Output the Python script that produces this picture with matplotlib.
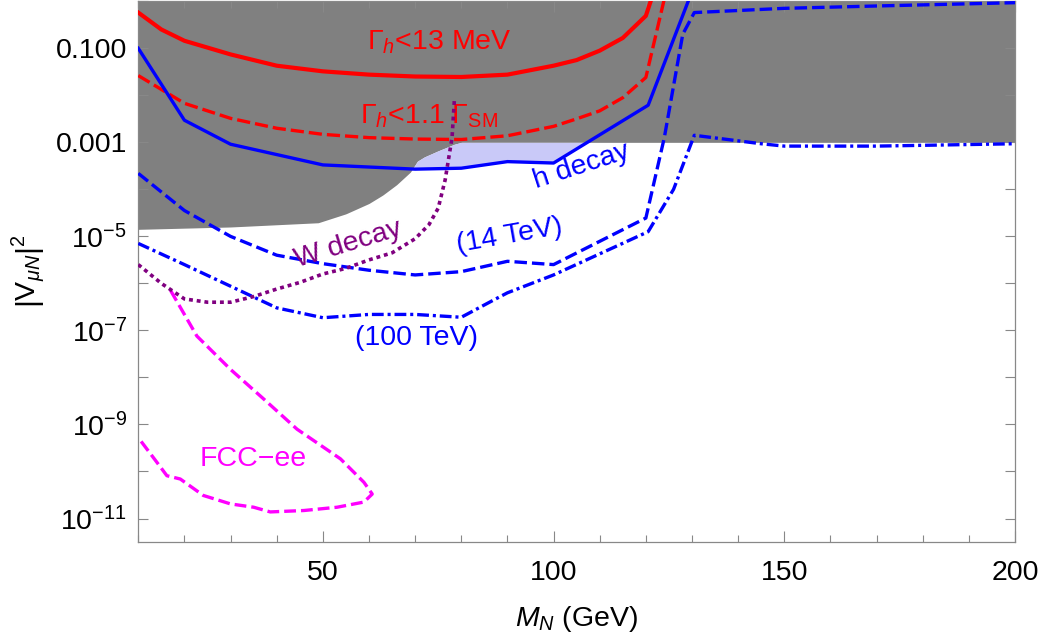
import matplotlib
matplotlib.use('Agg')
import matplotlib.pyplot as plt
import numpy as np
from matplotlib.ticker import FixedLocator, FixedFormatter, MultipleLocator

plt.rcParams['font.family'] = ['Liberation Sans', 'DejaVu Sans']
plt.rcParams['mathtext.fontset'] = 'custom'
plt.rcParams['mathtext.rm'] = 'Liberation Sans'
plt.rcParams['mathtext.it'] = 'Liberation Sans:italic'
plt.rcParams['mathtext.bf'] = 'Liberation Sans:bold'
plt.rcParams['lines.scale_dashes'] = False

# curves: x in GeV, y given as log10(|V|^2)
red_solid_x = [10, 15, 20, 30, 40, 50, 60, 70, 80, 90, 100, 105, 110, 115, 120, 121.2]
red_solid_y = [-0.24, -0.60, -0.84, -1.13, -1.37, -1.49, -1.56, -1.60, -1.61, -1.56,
               -1.37, -1.25, -1.05, -0.78, -0.31, 0.05]

red_dash_x = [10, 20, 30, 40, 50, 60, 70, 80, 90, 100, 105, 110, 115, 120, 124]
red_dash_y = [-1.58, -2.17, -2.49, -2.70, -2.83, -2.90, -2.93, -2.94, -2.86, -2.66,
              -2.50, -2.33, -2.05, -1.62, 0.05]

h_decay_x = [10, 20, 30, 50, 70, 80, 90, 100, 120.5, 130]
h_decay_y = [-1.0, -2.53, -3.04, -3.48, -3.57, -3.55, -3.41, -3.44, -2.21, 0.21]

lhc14_x = [10, 20, 30, 40, 50, 60, 70, 80, 90, 100, 120, 124, 128, 130.5, 150, 170, 200]
lhc14_y = [-3.66, -4.45, -5.0, -5.4, -5.58, -5.72, -5.82, -5.75, -5.53, -5.60, -4.61,
           -2.9, -0.7, -0.24, -0.15, -0.10, -0.03]

fcc100_x = [10, 20, 30, 40, 50, 60, 70, 80, 86.5, 90, 100, 120.5, 126, 130.5, 145, 150, 170, 200]
fcc100_y = [-5.15, -5.6, -6.06, -6.52, -6.73, -6.66, -6.66, -6.72, -6.38, -6.2, -5.82,
            -4.9, -4.0, -2.85, -3.03, -3.08, -3.08, -3.03]

w_decay_x = [10, 15, 20, 25, 30, 35, 40, 45, 50, 55, 60, 65, 70, 73, 75, 76.5, 78, 78.5]
w_decay_y = [-5.6, -6.0, -6.33, -6.40, -6.40, -6.28, -6.12, -5.98, -5.80, -5.68, -5.50,
             -5.35, -5.05, -4.75, -4.40, -3.8, -2.9, -2.1]

fccee_x = [17, 22.7, 30, 37.2, 44.4, 53.8, 58.9, 60.7, 58.9, 53.1, 45.9, 38.6, 35, 30,
           24.1, 19.1, 16.2, 14, 10]
fccee_y = [-6.15, -7.12, -7.83, -8.46, -9.10, -9.73, -10.23, -10.48, -10.65, -10.76,
           -10.83, -10.86, -10.76, -10.69, -10.51, -10.16, -10.09, -9.80, -9.28]

excl_x = [10, 30, 49, 55, 60, 63, 66, 69, 70.5, 72, 75, 78.5, 80, 200]
excl_y = [-4.85, -4.80, -4.71, -4.52, -4.30, -4.12, -3.90, -3.63, -3.40, -3.31, -3.18,
          -3.04, -3.0, -3.0]

ytick_exp = [0, -1, -2, -3, -4, -5, -6, -7, -8, -9, -10, -11]
ytick_text = {-1: '0.100', -3: '0.001', -5: r'$10^{-5}$', -7: r'$10^{-7}$',
              -9: r'$10^{-9}$', -11: r'$10^{-11}$'}

fig = plt.figure(figsize=(10.42, 6.4), dpi=100)
ax = fig.add_axes([0.1327, 0.1531, 0.9741 - 0.1327, 0.998 - 0.1531])

# shaded excluded regions
gx = np.linspace(10, 200, 1000)
g_low = 10 ** np.interp(gx, excl_x, excl_y)
h_line = 10 ** np.interp(gx, h_decay_x, h_decay_y)
ax.fill_between(gx, g_low, 10.0, color='#808080', lw=0, zorder=1)
ax.fill_between(gx, h_line, g_low, where=(h_line < g_low) & (gx > 65), interpolate=True,
                color='#c9c9f8', lw=0, zorder=1)

lw = 2.4
ax.plot(red_solid_x, 10 ** np.array(red_solid_y), color='red', lw=3.0, zorder=3)
ax.plot(red_dash_x, 10 ** np.array(red_dash_y), color='red', lw=lw,
        linestyle=(0, (9.5, 3.6)), zorder=3)
ax.plot(h_decay_x, 10 ** np.array(h_decay_y), color='blue', lw=lw, zorder=3)
ax.plot(lhc14_x, 10 ** np.array(lhc14_y), color='blue', lw=lw,
        linestyle=(0, (9, 3.6)), zorder=3)
ax.plot(fcc100_x, 10 ** np.array(fcc100_y), color='blue', lw=lw,
        linestyle=(0, (8.5, 2.8, 2.2, 2.8)), zorder=3)
ax.plot(w_decay_x, 10 ** np.array(w_decay_y), color='#800080', lw=2.6,
        linestyle=(0, (2.8, 2.8)), zorder=4)
ax.plot(fccee_x, 10 ** np.array(fccee_y), color='#ff00ff', lw=lw,
        linestyle=(0, (8.5, 3.6)), zorder=3)

fs = 20.5
ax.text(75.2, 10 ** -0.88, r'$\Gamma_h$<13 MeV', color='red', fontsize=fs,
        ha='center', va='center', zorder=5)
ax.text(73.0, 10 ** -2.45, r'$\Gamma_h$<1.1 $\Gamma_{\rm SM}$', color='red', fontsize=fs,
        ha='center', va='center', zorder=2)
ax.text(106.0, 10 ** -3.50, 'h decay', color='blue', fontsize=fs, rotation=18,
        rotation_mode='anchor', ha='center', va='center', zorder=5)
ax.text(55.4, 10 ** -5.18, 'W decay', color='#800080', fontsize=fs, rotation=17,
        rotation_mode='anchor', ha='center', va='center', zorder=5)
ax.text(90.4, 10 ** -4.99, '(14 TeV)', color='blue', fontsize=fs, rotation=10,
        rotation_mode='anchor', ha='center', va='center', zorder=5)
ax.text(70.2, 10 ** -7.17, '(100 TeV)', color='blue', fontsize=fs,
        ha='center', va='center', zorder=5)
ax.text(34.9, 10 ** -9.74, 'FCC\u2212ee', color='#ff00ff', fontsize=fs,
        ha='center', va='center', zorder=5)

ax.set_yscale('log')
ax.set_xlim(10, 200)
ax.set_ylim(10 ** -11.5, 1.0)

ax.xaxis.set_major_locator(FixedLocator([50, 100, 150, 200]))
ax.xaxis.set_minor_locator(MultipleLocator(10))
ax.yaxis.set_major_locator(FixedLocator([10.0 ** e for e in ytick_exp]))
ax.yaxis.set_major_formatter(FixedFormatter([ytick_text.get(e, '') for e in ytick_exp]))
ax.yaxis.set_minor_locator(FixedLocator([]))

ax.tick_params(which='both', direction='in', top=True, right=True, color='#888888',
               labelsize=fs, width=0.8)
ax.tick_params(axis='x', which='major', length=8, pad=13)
ax.tick_params(axis='x', which='minor', length=5)
ax.tick_params(axis='y', which='major', length=7, pad=8)
for s in ax.spines.values():
    s.set_color('#888888')
    s.set_linewidth(0.9)

ax.set_xlabel(r'$M_N$ (GeV)', fontsize=fs, labelpad=13)
ax.set_ylabel(r'$\left|\mathrm{V}_{\mu N}\right|^2$', fontsize=fs, labelpad=6)

fig.savefig('out.png', dpi=100)
